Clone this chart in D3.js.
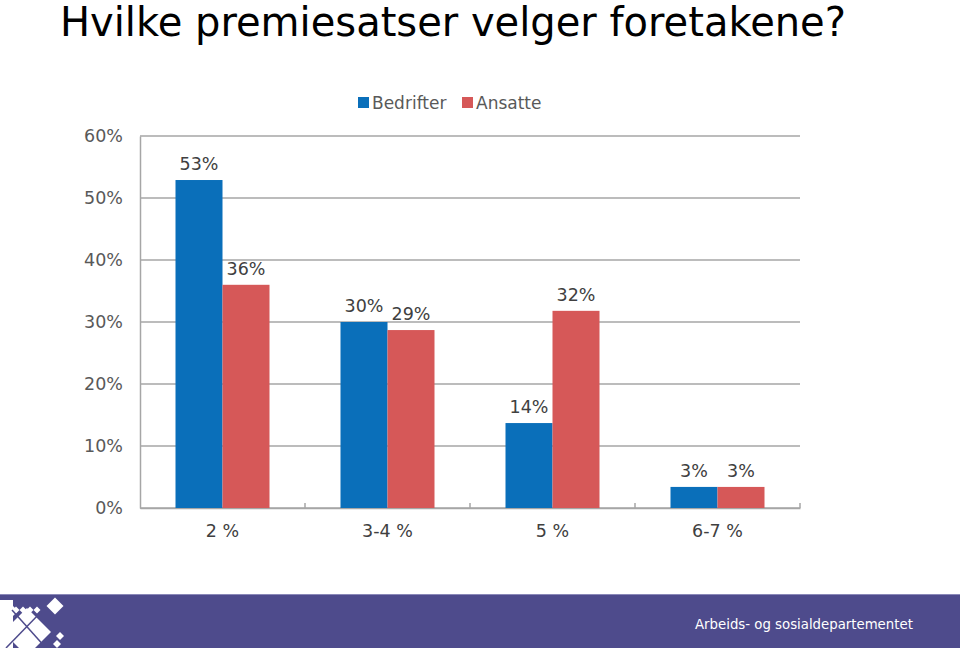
<!DOCTYPE html>
<html><head><meta charset="utf-8">
<script src="https://cdn.jsdelivr.net/npm/d3@7"></script>
<style>body{margin:0;background:#fff}svg{display:block}text{font-family:"DejaVu Sans",Verdana,sans-serif}</style>
</head><body>
<script>
const categories = ["2 %", "3-4 %", "5 %", "6-7 %"];
const seriesNames = ["Bedrifter", "Ansatte"];
const bedrifter = [52.9, 30, 13.7, 3.4];
const ansatte = [36, 28.7, 31.8, 3.4];
const yTicks = [0, 10, 20, 30, 40, 50, 60];
const colors = ["#0a6fba", "#d65858"];

const W = 960, H = 648;
const svg = d3.select("body").append("svg").attr("width", W).attr("height", H);

svg.append("text").attr("x", 60).attr("y", 36).attr("font-size", 40).attr("fill", "#000")
  .text("Hvilke premiesatser velger foretakene?");

const x0 = d3.scaleBand().domain(categories).range([140, 800]).paddingInner(0).paddingOuter(0);
const x1 = d3.scaleBand().domain(seriesNames).range([0, 94]);
const y = d3.scaleLinear().domain([0, 60]).range([508, 136]);
const grid = "#a6a6a6";
const fs = 17.5;

svg.append("g").selectAll("line").data(yTicks).join("line")
  .attr("x1", 140).attr("x2", 800).attr("y1", d => y(d)).attr("y2", d => y(d))
  .attr("stroke", grid).attr("stroke-width", 1.5);
const ya = svg.append("g").attr("transform", "translate(140,0)")
  .call(d3.axisLeft(y).tickValues(yTicks).tickFormat(d => d + "%").tickSize(0).tickPadding(17));
ya.select(".domain").attr("stroke", grid).attr("stroke-width", 1.5);
ya.selectAll("text").attr("font-size", fs).attr("fill", "#595959").attr("font-family", "DejaVu Sans,Verdana,sans-serif");

const xa = svg.append("g").attr("transform", "translate(0,508)")
  .call(d3.axisBottom(x0).tickSize(0).tickPadding(17));
xa.select(".domain").attr("stroke", grid).attr("stroke-width", 1.5);
xa.selectAll("text").attr("font-size", fs).attr("fill", "#404040").attr("font-family", "DejaVu Sans,Verdana,sans-serif");
svg.append("g").selectAll("line").data(categories).join("line")
  .attr("x1", c => x0(c) + x0.bandwidth()).attr("x2", c => x0(c) + x0.bandwidth())
  .attr("y1", 508).attr("y2", 503).attr("stroke", grid).attr("stroke-width", 1.5);

const data = categories.map((c, i) => ({ c, vals: [bedrifter[i], ansatte[i]] }));
const groups = svg.append("g").selectAll("g").data(data).join("g")
  .attr("transform", d => `translate(${x0(d.c) + (x0.bandwidth() - 94) / 2},0)`);
groups.selectAll("rect").data(d => d.vals.map((v, j) => ({ v, s: seriesNames[j], j }))).join("rect")
  .attr("x", d => x1(d.s)).attr("width", x1.bandwidth())
  .attr("y", d => y(d.v)).attr("height", d => y(0) - y(d.v))
  .attr("fill", d => colors[d.j]);
groups.selectAll("text").data(d => d.vals.map((v, j) => ({ v, s: seriesNames[j], j }))).join("text")
  .attr("x", d => x1(d.s) + x1.bandwidth() / 2).attr("y", d => y(d.v) - 10)
  .attr("text-anchor", "middle").attr("font-size", fs).attr("fill", "#404040")
  .text(d => Math.round(d.v) + "%");

const leg = svg.append("g");
const legX = [358, 462];
seriesNames.forEach((s, i) => {
  leg.append("rect").attr("x", legX[i]).attr("y", 97).attr("width", 11).attr("height", 11).attr("fill", colors[i]);
  leg.append("text").attr("x", legX[i] + 14).attr("y", 109).attr("font-size", 17).attr("fill", "#595959").text(s);
});

// footer
const purple = "#4e4b8c";
svg.append("rect").attr("x", 0).attr("y", 594).attr("width", W).attr("height", 54).attr("fill", purple);
svg.append("line").attr("x1", 0).attr("x2", W).attr("y1", 594.5).attr("y2", 594.5).attr("stroke", "#8a88b8");
svg.append("text").attr("x", 695).attr("y", 629).attr("font-size", 13.3).attr("fill", "#fff")
  .text("Arbeids- og sosialdepartementet");
// logo
const logo = svg.append("g");
logo.append("rect").attr("x", 0).attr("y", 600).attr("width", 13).attr("height", 48).attr("fill", "#fff");
const dia = (cx, cy, r) => logo.append("path").attr("fill", "#fff")
  .attr("d", `M${cx},${cy-r} L${cx+r},${cy} L${cx},${cy+r} L${cx-r},${cy} Z`);
dia(27, 632, 24);
dia(8, 611, 10);
[[16,610],[23,610],[30,610],[37,610]].forEach(([cx,cy]) => dia(cx, cy, 3.5));
dia(55, 606, 8.5);
dia(60, 636, 4);
dia(57, 644, 4);
logo.append("line").attr("x1", 12).attr("y1", 610).attr("x2", 46).attr("y2", 648).attr("stroke", purple).attr("stroke-width", 1.5);
logo.append("line").attr("x1", 41).attr("y1", 612).attr("x2", 6).attr("y2", 648).attr("stroke", purple).attr("stroke-width", 1.5);
</script>
</body></html>
